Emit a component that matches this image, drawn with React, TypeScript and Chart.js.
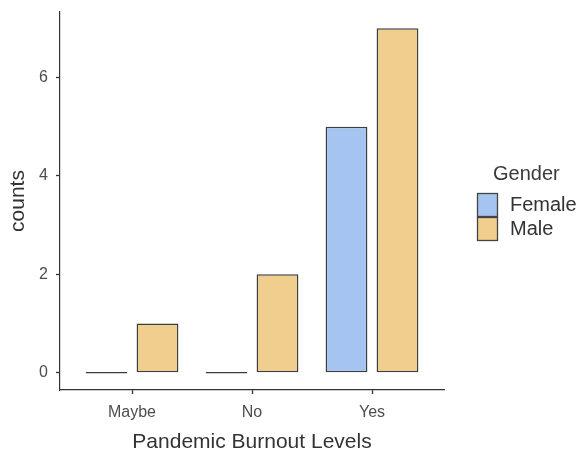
import React, { useEffect, useRef } from "react";
import { Chart, registerables } from "chart.js";

Chart.register(...registerables);

const categories = ["Maybe", "No", "Yes"];
const female = [0, 0, 5];
const male = [1, 2, 7];
const yTicks = [0, 2, 4, 6];
const xTitle = "Pandemic Burnout Levels";
const yTitle = "counts";
const legendTitle = "Gender";

const FONT = "'Liberation Sans', Arial, sans-serif";

const legendPlugin = {
  id: "ggLegend",
  afterDraw(chart: any) {
    const ctx = chart.ctx;
    ctx.save();
    ctx.font = `20px ${FONT}`;
    ctx.fillStyle = "#3a3a3a";
    ctx.textBaseline = "middle";
    ctx.textAlign = "left";
    ctx.fillText(legendTitle, 493, 174);
    chart.data.datasets.forEach((ds: any, i: number) => {
      const y = 193 + i * 24;
      ctx.fillStyle = ds.backgroundColor;
      ctx.fillRect(477, y, 21, 24);
      ctx.strokeStyle = "#444444";
      ctx.lineWidth = 1.3;
      ctx.strokeRect(477.5, y + 0.5, 20, 23);
      ctx.fillStyle = "#333333";
      ctx.font = `20px ${FONT}`;
      ctx.fillText(ds.label, 510, y + 12.5);
    });
    ctx.restore();
  },
};

const barStyle = {
  borderColor: "#3d3d3d",
  borderWidth: 1.5,
  borderSkipped: false,
  minBarLength: 1.6,
  categoryPercentage: 0.85,
  barPercentage: 0.82,
};

const gridStyle = {
  offset: false,
  drawOnChartArea: false,
  drawTicks: true,
  tickLength: 4,
  tickWidth: 1.3,
  tickColor: "#333333",
  color: "#333333",
};

export default function App() {
  const ref = useRef<HTMLCanvasElement>(null);
  useEffect(() => {
    const chart = new Chart(ref.current as HTMLCanvasElement, {
      type: "bar",
      data: {
        datasets: [
          {
            label: "Female",
            data: categories.map((c, i) => ({ x: i + 1, y: female[i] })),
            backgroundColor: "#a5c4f2",
            ...barStyle,
          },
          {
            label: "Male",
            data: categories.map((c, i) => ({ x: i + 1, y: male[i] })),
            backgroundColor: "#f0ce8e",
            ...barStyle,
          },
        ],
      } as any,
      options: {
        animation: false,
        responsive: true,
        maintainAspectRatio: false,
        layout: { padding: { top: 12, right: 135, left: 0, bottom: 0 } },
        plugins: { legend: { display: false }, tooltip: { enabled: false } },
        scales: {
          x: {
            type: "linear",
            min: 0.4,
            max: 3.6,
            offset: false,
            afterBuildTicks: (s: any) => {
              s.ticks = categories.map((c, i) => ({ value: i + 1 }));
            },
            afterFit: (s: any) => {
              s.height = 65;
              s.paddingLeft = 0;
              s.paddingRight = 0;
            },
            ticks: {
              autoSkip: false,
              maxRotation: 0,
              padding: 9,
              color: "#4d4d4d",
              font: { family: FONT, size: 16 },
              callback: (v: any) => categories[Math.round(v) - 1] ?? "",
            },
            grid: gridStyle,
            border: { display: true, color: "#333333", width: 1.2 },
            title: {
              display: true,
              text: xTitle,
              color: "#333333",
              font: { family: FONT, size: 21 },
              padding: { top: 0, bottom: 0 },
            },
          },
          y: {
            min: -0.35,
            max: 7.33,
            afterBuildTicks: (s: any) => {
              s.ticks = yTicks.map((v) => ({ value: v }));
            },
            afterFit: (s: any) => {
              s.width = 60;
              s.paddingTop = 0;
              s.paddingBottom = 0;
            },
            ticks: {
              padding: 8,
              color: "#4d4d4d",
              font: { family: FONT, size: 16 },
            },
            grid: gridStyle,
            border: { display: true, color: "#333333", width: 1.2 },
            title: {
              display: true,
              text: yTitle,
              color: "#333333",
              font: { family: FONT, size: 21 },
              padding: { top: 6, bottom: 0 },
            },
          },
        },
      } as any,
      plugins: [legendPlugin],
    });
    return () => chart.destroy();
  }, []);
  return (
    <div style={{ position: "fixed", left: 0, top: 0, width: 579, height: 455, background: "#ffffff" }}>
      <canvas ref={ref} />
    </div>
  );
}
